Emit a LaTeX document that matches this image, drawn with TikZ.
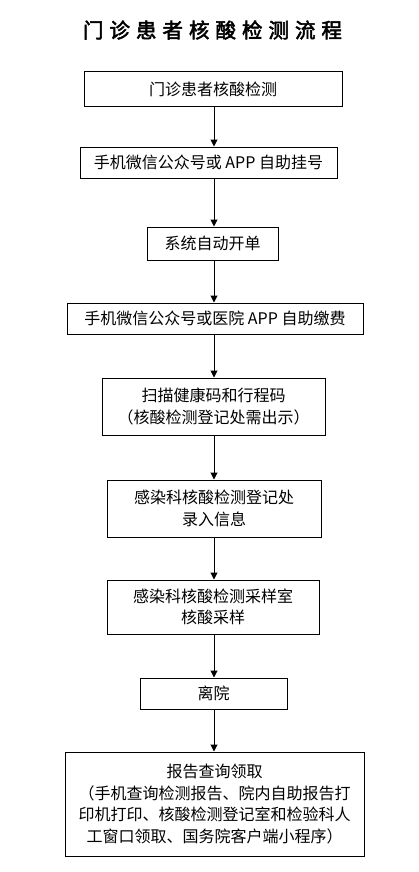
\documentclass[tikz,border=0pt]{standalone}
\usepackage{fontspec}
\setmainfont{Noto Sans CJK SC}
\newfontfamily\titlefont{Noto Sans CJK SC}[FakeBold=2.5]
\usetikzlibrary{arrows.meta}
\begin{document}
\begin{tikzpicture}[x=1pt,y=-1pt,
  box/.style={draw,line width=1pt,inner sep=0pt,align=center,
    font=\fontsize{16}{21.5}\selectfont},
  flow/.style={line width=1pt,-{Triangle[length=7pt,width=7pt]}}]
\useasboundingbox[fill=white] (0,0) rectangle (418,872);
\node (title) at (212.5,30) {\titlefont\fontsize{20.5}{24}\selectfont
  门\hspace{6pt}诊\hspace{6pt}患\hspace{6pt}者\hspace{6pt}核\hspace{6pt}酸\hspace{6pt}检\hspace{6pt}测\hspace{6pt}流\hspace{6pt}程};
\node[box,minimum width=258,minimum height=35] (b1) at (213,89) {门诊患者核酸检测};
\node[box,minimum width=257,minimum height=31] (b2) at (208.5,162.5) {手机微信公众号或 APP 自助挂号};
\node[box,minimum width=131,minimum height=33] (b3) at (212.5,243.5) {系统自动开单};
\node[box,minimum width=296,minimum height=31] (b4) at (215,318.5) {手机微信公众号或医院 APP 自助缴费};
\node[box,minimum width=223,minimum height=57] (b5) at (213.5,406.5) {扫描健康码和行程码\\（核酸检测登记处需出示）};
\node[box,minimum width=214,minimum height=57] (b6) at (214,508.5) {感染科核酸检测登记处\\录入信息};
\node[box,minimum width=212,minimum height=54] (b7) at (213,607) {感染科核酸检测采样室\\核酸采样};
\node[box,minimum width=147,minimum height=31] (b8) at (213.5,693.5) {离院};
\node[box,minimum width=299,minimum height=104] (b9) at (214.5,804) {报告查询领取\\（手机查询检测报告、院内自助报告打\\印机打印、核酸检测登记室和检验科人\\工窗口领取、国务院客户端小程序）};
\coordinate (ax) at (214,0);
\foreach \a/\b in {b1/b2,b2/b3,b3/b4,b4/b5,b5/b6,b6/b7,b7/b8,b8/b9}{
  \draw[flow] (ax |- \a.south) -- (ax |- \b.north);
}
\end{tikzpicture}
\end{document}
